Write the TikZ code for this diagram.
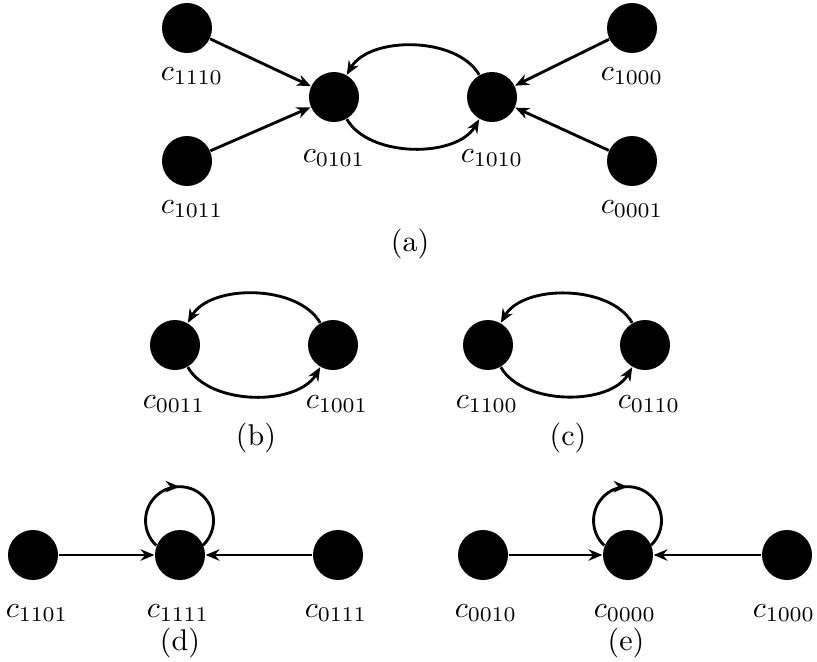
\documentclass[tikz,border=0pt]{standalone}
\usetikzlibrary{arrows.meta,decorations.markings}
\begin{document}
\begin{tikzpicture}[x={(0.33333pt,0)},y={(0,-0.33333pt)},
  state/.style={circle,fill=black,draw=none,minimum size=16.67pt,inner sep=0pt},
  lab/.style={anchor=base,inner sep=0pt},
  conn/.style={line width=0.95pt,-{Stealth[length=4.6pt,width=3.8pt,inset=1.5pt]}},
  arcup/.style={conn,out=120,in=60,looseness=0.87},
  arcdown/.style={conn,out=-60,in=-120,looseness=0.87},
  selfloop/.style={line width=0.95pt,postaction={decorate},
    decoration={markings,mark=at position 0.5 with {\arrow{Stealth[length=4.6pt,width=3.8pt,inset=1.5pt]}}}}]
\useasboundingbox (0,0) rectangle (817,661);
% (a)
\node[state] (a1110) at (187,28) {};
\node[state] (a1011) at (187,161) {};
\node[state] (a0101) at (334,97) {};
\node[state] (a1010) at (492,97) {};
\node[state] (a1000) at (632,28) {};
\node[state] (a0001) at (632,161) {};
\node[lab] (la1110) at (192,80) {$c_{1110}$};
\node[lab] (la1011) at (192,213) {$c_{1011}$};
\node[lab] (la0101) at (334,162) {$c_{0101}$};
\node[lab] (la1010) at (492,162) {$c_{1010}$};
\node[lab] (la1000) at (632,80) {$c_{1000}$};
\node[lab] (la0001) at (632,213) {$c_{0001}$};
\node[lab] (capa) at (410,251) {(a)};
\draw[conn] (a1110) -- (a0101);
\draw[conn] (a1011) -- (a0101);
\draw[conn] (a1000) -- (a1010);
\draw[conn] (a0001) -- (a1010);
\draw[arcup] (a1010) to (a0101);
\draw[arcdown] (a0101) to (a1010);
% (b)
\node[state] (b0011) at (175,345) {};
\node[state] (b1001) at (333,345) {};
\node[lab] (lb0011) at (174,408) {$c_{0011}$};
\node[lab] (lb1001) at (337,408) {$c_{1001}$};
\node[lab] (capb) at (256,445) {(b)};
\draw[arcup] (b1001) to (b0011);
\draw[arcdown] (b0011) to (b1001);
% (c)
\node[state] (c1100) at (488,345) {};
\node[state] (c0110) at (645,345) {};
\node[lab] (lc1100) at (487,408) {$c_{1100}$};
\node[lab] (lc0110) at (649,408) {$c_{0110}$};
\node[lab] (capc) at (568,445) {(c)};
\draw[arcup] (c0110) to (c1100);
\draw[arcdown] (c1100) to (c0110);
% (d)
\node[state] (d1101) at (33,555) {};
\node[state] (d1111) at (180,555) {};
\node[state] (d0111) at (338,555) {};
\node[lab] (ld1101) at (37,617) {$c_{1101}$};
\node[lab] (ld1111) at (178,617) {$c_{1111}$};
\node[lab] (ld0111) at (336,617) {$c_{0111}$};
\node[lab] (capd) at (180,650) {(d)};
\draw[conn] (d1101) -- (d1111);
\draw[conn] (d0111) -- (d1111);
\draw[selfloop] (d1111.158.4) arc[start angle=226.8,end angle=-46.8,radius=11.33pt];
% (e)
\node[state] (e0010) at (483,555) {};
\node[state] (e0000) at (628,555) {};
\node[state] (e1000) at (787,555) {};
\node[lab] (le0010) at (486,617) {$c_{0010}$};
\node[lab] (le0000) at (625,617) {$c_{0000}$};
\node[lab] (le1000) at (784,617) {$c_{1000}$};
\node[lab] (cape) at (626,650) {(e)};
\draw[conn] (e0010) -- (e0000);
\draw[conn] (e1000) -- (e0000);
\draw[selfloop] (e0000.158.4) arc[start angle=226.8,end angle=-46.8,radius=11.33pt];
\end{tikzpicture}
\end{document}
